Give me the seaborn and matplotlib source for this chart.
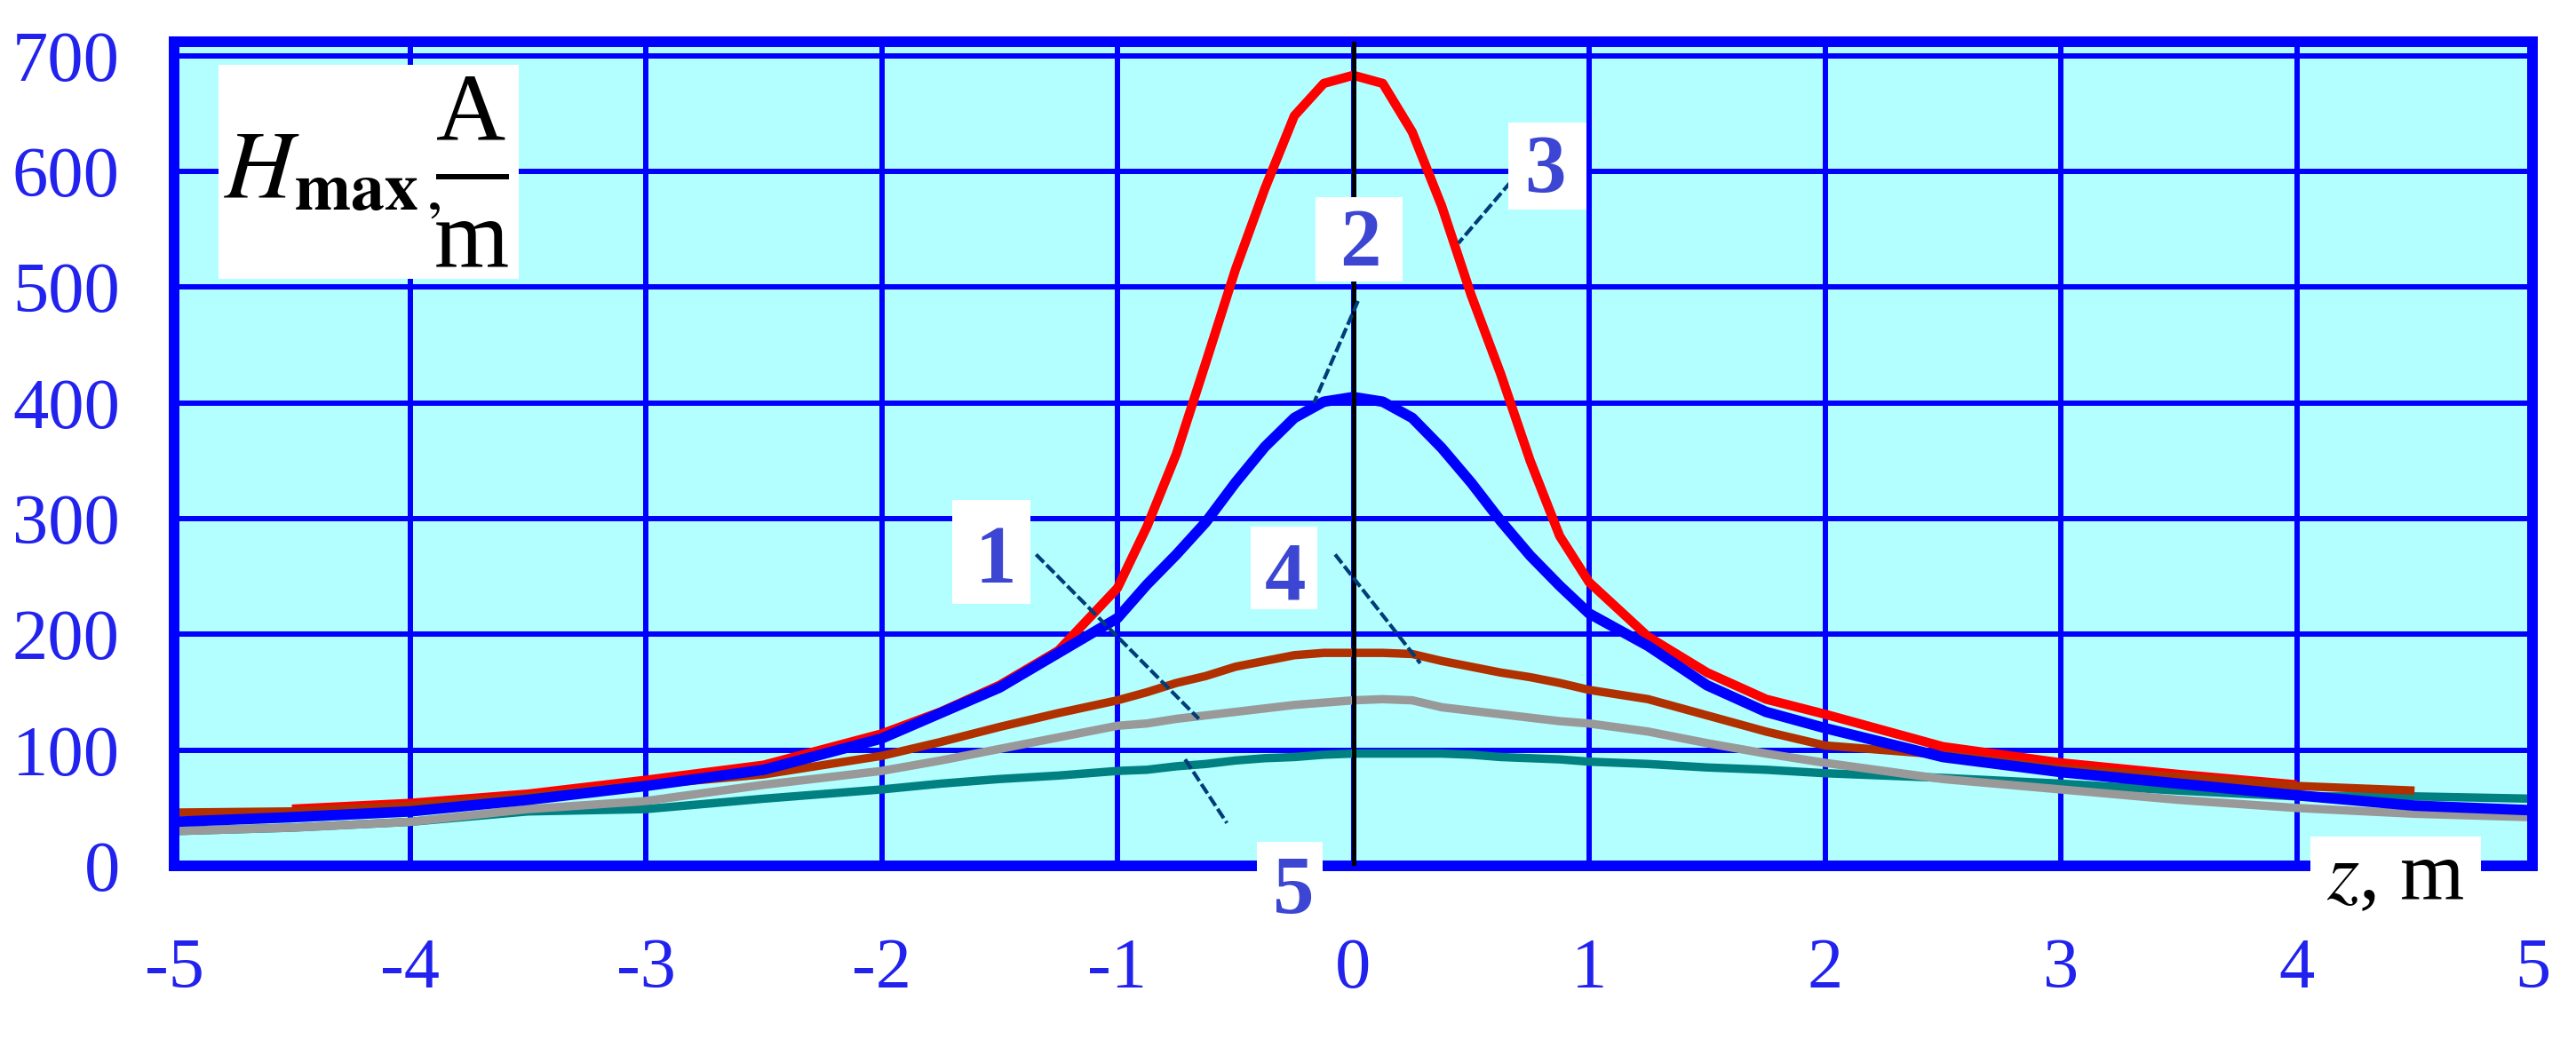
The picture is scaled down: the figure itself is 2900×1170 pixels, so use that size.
import numpy as np
import pandas as pd
import matplotlib
matplotlib.use("Agg")
import matplotlib.pyplot as plt
import seaborn as sns
from matplotlib.patches import Rectangle

# ---------------- data ----------------
z = [-5, -4.5, -4, -3.5, -3, -2.5, -2, -1.75, -1.5, -1.25, -1, -0.875, -0.75,
     -0.625, -0.5, -0.375, -0.25, -0.125, 0, 0.125, 0.25, 0.375, 0.5, 0.625,
     0.75, 0.875, 1, 1.25, 1.5, 1.75, 2, 2.5, 3, 3.5, 4, 4.5, 5]

h3_red = [np.nan, 49, 54, 62, 74, 87, 114, 133, 156, 186, 240, 293, 356,
          435, 515, 585, 648, 676, 683, 676, 634, 570, 493, 425,
          350, 285, 245, 198, 167, 144, 131, 103, 89, 79, 70, np.nan, np.nan]

h2_blue = [38, 42, 47, 57, 69, 83, 110, 132, 154, 184, 214, 243, 269,
           297, 331, 362, 387, 401, 405, 401, 387, 361, 331, 298,
           268, 242, 218, 190, 156, 133, 119, 94, 81, 71, 61, 52, 48]

h4_brown = [46, 47, 52, 60, 70, 79, 95, 107, 120, 132, 143, 150, 158,
            164, 172, 177, 182, 184, 184, 184, 183, 177, 172, 167,
            163, 158, 152, 144, 130, 116, 104, 96, 84, 77, 69, 65, np.nan]

h1_gray = [30, 33, 38, 49, 56, 70, 82, 91, 101, 111, 121, 123, 127,
           130, 133, 136, 139, 141, 143, 144, 143, 137, 134, 131,
           128, 125, 123, 116, 106, 97, 89, 75, 66, 57, 50, 45, 42]

h5_teal = [30, 33, 38, 47, 49, 58, 66, 71, 75, 78, 82, 83, 86,
           88, 91, 93, 94, 96, 97, 97, 97, 97, 96, 94,
           93, 92, 90, 88, 85, 83, 80, 76, 71, 65, 60, 60, 58]

x_ticks = [-5, -4, -3, -2, -1, 0, 1, 2, 3, 4, 5]
x_tick_labels = ["-5", "-4", "-3", "-2", "-1", "0", "1", "2", "3", "4", "5"]
y_ticks = [0, 100, 200, 300, 400, 500, 600, 700]
y_tick_labels = ["0", "100", "200", "300", "400", "500", "600", "700"]

curve_labels = ["1", "2", "3", "4", "5"]

# ---------------- styling ----------------
sns.set_style("white")
plt.rcParams["font.family"] = ["Liberation Serif", "DejaVu Serif"]
plt.rcParams["mathtext.fontset"] = "stix"
plt.rcParams["axes.unicode_minus"] = False

W, H = 2900, 1170
fig = plt.figure(figsize=(W / 100, H / 100), dpi=100)
ax = fig.add_axes([196 / W, 1 - 975 / H, (2851 - 196) / W, (975 - 47) / H])
ax.set_facecolor("#b3ffff")

series = [
    ("5", h5_teal, "#008080", 6.8),
    ("1", h1_gray, "#999999", 6.8),
    ("3", h3_red, "#ff0000", 7.5),
    ("4", h4_brown, "#b03000", 6.8),
    ("2", h2_blue, "#0000ff", 8.5),
]
for i, (name, vals, col, lw) in enumerate(series):
    df = pd.DataFrame({"z": z, "H": vals}).dropna()
    sns.lineplot(data=df, x="z", y="H", color=col, linewidth=lw, ax=ax,
                 sort=False, zorder=2 + i * 0.1, solid_capstyle="butt",
                 solid_joinstyle="round")

ax.axvline(0, color="black", lw=3.5, zorder=4)

ax.set_xlim(-5, 5)
ax.set_ylim(0, 712)
ax.set_xticks(x_ticks)
ax.set_xticklabels(x_tick_labels)
ax.set_yticks(y_ticks)
ax.set_yticklabels(y_tick_labels)
ax.set_xlabel("")
ax.set_ylabel("")
ax.set_axisbelow(True)
ax.grid(True, color="#0000ff", linewidth=4.3)
ax.tick_params(axis="both", length=0, labelsize=58, labelcolor="#2222ee")
ax.tick_params(axis="x", pad=58)
ax.tick_params(axis="y", pad=44)
for s in ax.spines.values():
    s.set_visible(True)
    s.set_color("#0000ff")
    s.set_linewidth(8.6)

# ---------------- annotation boxes ----------------
def wbox(x0, y0, x1, y1):
    ax.add_patch(Rectangle((x0, y0), x1 - x0, y1 - y0, facecolor="white",
                           edgecolor="none", zorder=6, clip_on=False))

# H_max, A/m label
wbox(-4.81, 507, -3.54, 692)
ax.text(-4.79, 578, r"$H_{\mathbf{max}\,,}$", fontsize=78, color="black",
        ha="left", va="baseline", zorder=7)
ax.text(-3.74, 627.5, "A", fontsize=78, color="black", ha="center",
        va="baseline", zorder=7)
ax.text(-3.74, 517.6, "m", fontsize=78, color="black", ha="center",
        va="baseline", zorder=7)
ax.plot([-3.89, -3.58], [595, 595], color="black", lw=4.3, zorder=7,
        solid_capstyle="butt")

# curve number labels: (label, text x, baseline y, box)
num_pos = [
    ("1", -1.517, 244.7, (-1.70, 226, -1.37, 316)),
    ("2", 0.03, 519, (-0.16, 505, 0.21, 578)),
    ("3", 0.813, 582, (0.656, 567, 0.988, 642)),
    ("4", -0.29, 230.7, (-0.435, 222, -0.153, 293)),
    ("5", -0.253, -41, (-0.41, -60, -0.13, 21)),
]
for lab, tx, ty, box in num_pos:
    wbox(*box)
    ax.text(tx, ty, lab, fontsize=67, color="#3c46d2", ha="center",
            va="baseline", zorder=7, fontweight="bold", clip_on=False)

# leader lines
leaders = [
    ((-1.345, 269), (-0.655, 127)),
    ((0.02, 488), (-0.167, 400)),
    ((0.668, 591), (0.446, 538)),
    ((-0.077, 269), (0.284, 175)),
    ((-0.713, 92), (-0.536, 37)),
]
for (xa, ya), (xb, yb) in leaders:
    ax.plot([xa, xb], [ya, yb], color="#003c78", lw=3.0, zorder=5,
            linestyle=(0, (3, 1)))

# axis name for z
wbox(4.06, -40, 4.78, 25.6)
ax.text(4.42, -28.7, r"$z$, m", fontsize=67, color="black", ha="center",
        va="baseline", zorder=7, clip_on=False)

fig.savefig("out.png", dpi=100, facecolor="white")
